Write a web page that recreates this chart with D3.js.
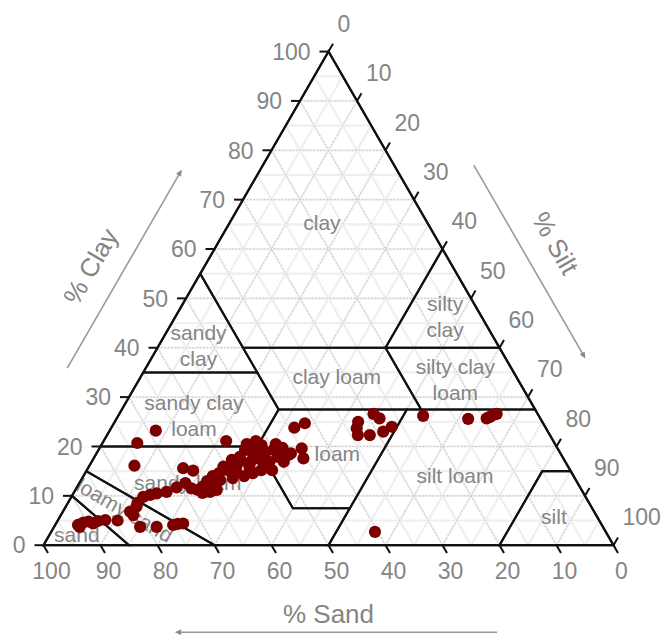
<!DOCTYPE html>
<html>
<head>
<meta charset="utf-8">
<script src="https://cdn.jsdelivr.net/npm/d3@7"></script>
<style>
  html, body { margin: 0; padding: 0; background: #fff; }
  svg { display: block; font-family: "Liberation Sans", Arial, Helvetica, sans-serif; }
</style>
</head>
<body>
<svg id="chart" width="661" height="635"></svg>
<script>
// Soil samples: percent sand, silt and clay
const sand = [91.9, 90.7, 89.7, 89.1, 86.6, 84.5, 91.8, 88.0, 81.4, 81.2, 79.8, 81.2, 78.3, 75.2, 73.3, 74.3,
  77.6, 76.2, 74.9, 73.0, 70.8, 79.2, 68.7, 73.2, 76.0, 57.4, 52.2, 67.7, 66.2, 66.1, 65.4, 64.0, 67.3, 65.5,
  63.3, 68.8, 68.3, 61.9, 60.5, 58.6, 56.6, 55.7, 56.0, 54.2, 53.2, 50.0, 49.9, 47.9, 55.0, 58.3, 60.0, 57.8,
  51.6, 51.9, 54.0, 52.6, 48.2, 53.1, 57.7, 63.3, 44.1, 41.8, 44.9, 45.6, 47.3, 28.8, 28.2, 32.3, 33.2, 33.7,
  31.6, 28.9, 26.9, 20.3, 12.7, 9.4, 7.9, 7.2, 8.7, 40.5, 54.1, 51.6, 49.0, 53.9, 49.4, 52.3, 56.0, 60.0, 62.4, 64.8,
  66.8, 64.6, 59.2, 55.1];
const silt = [4.0, 4.7, 5.5, 6.5, 8.3, 10.5, 4.5, 7.1, 11.8, 12.7, 12.4, 15.1, 18.0, 20.7, 22.3, 21.4,
  12.6, 13.6, 14.6, 16.2, 17.5, 12.2, 8.1, 6.1, 7.9, 21.5, 26.7, 16.7, 18.7, 22.0, 23.8, 24.8, 21.5, 22.6,
  23.5, 18.6, 20.2, 23.5, 23.6, 26.2, 25.5, 27.7, 29.4, 30.6, 29.5, 30.7, 32.2, 33.8, 25.7, 24.4, 24.8, 28.2,
  29.5, 31.2, 27.1, 27.7, 32.1, 30.8, 25.8, 22.7, 32.1, 33.5, 35.5, 36.8, 34.1, 44.6, 46.1, 42.7, 43.1, 44.0,
  46.1, 48.1, 49.1, 53.5, 61.7, 64.9, 65.7, 66.2, 65.3, 56.8, 25.4, 28.1, 30.5, 28.4, 33.7, 32.5, 28.3, 26.4, 24.4, 22.2,
  22.6, 24.2, 25.0, 27.9];
const clay = [4.1, 4.6, 4.8, 4.4, 5.1, 5.0, 3.7, 4.9, 6.8, 6.1, 7.8, 3.7, 3.7, 4.1, 4.4, 4.3,
  9.8, 10.2, 10.5, 10.8, 11.7, 8.6, 23.2, 20.7, 16.1, 21.1, 21.1, 15.6, 15.1, 11.9, 10.8, 11.2, 11.2, 11.9,
  13.2, 12.6, 11.5, 14.6, 15.9, 15.2, 17.9, 16.6, 14.6, 15.2, 17.3, 19.3, 17.9, 18.3, 19.3, 17.3, 15.2, 14.0,
  18.9, 16.9, 18.9, 19.7, 19.7, 16.1, 16.5, 14.0, 23.8, 24.7, 19.6, 17.6, 18.6, 26.6, 25.7, 25.0, 23.7, 22.3,
  22.3, 23.0, 24.0, 26.2, 25.6, 25.7, 26.4, 26.6, 26.0, 2.7, 20.5, 20.3, 20.5, 17.7, 16.9, 15.2, 15.7, 13.6, 13.2, 13.0,
  10.6, 11.2, 15.8, 17.0];

// Axis ticks (percent)
const tickValues = [0, 10, 20, 30, 40, 50, 60, 70, 80, 90, 100];
const gridValues = d3.range(5, 100, 5);

// USDA texture classes: corner points as [sand, silt, clay]
const regionNames = ["clay", "sandy clay", "silty clay", "clay loam", "silty clay loam", "sandy clay loam",
  "loam", "silt loam", "silt", "sandy loam", "loamy sand", "sand"];
const regionCorners = [
  [[45, 0, 55], [0, 0, 100], [0, 40, 60], [20, 40, 40], [45, 15, 40]],
  [[65, 0, 35], [45, 0, 55], [45, 20, 35]],
  [[20, 40, 40], [0, 40, 60], [0, 60, 40]],
  [[45, 15, 40], [20, 40, 40], [20, 52.5, 27.5], [45, 27.5, 27.5]],
  [[20, 40, 40], [0, 60, 40], [0, 72.5, 27.5], [20, 52.5, 27.5]],
  [[80, 0, 20], [65, 0, 35], [45, 20, 35], [45, 27.5, 27.5], [52.5, 27.5, 20]],
  [[52.5, 27.5, 20], [45, 27.5, 27.5], [22.5, 50, 27.5], [42.5, 50, 7.5], [52.5, 40, 7.5]],
  [[50, 50, 0], [20, 80, 0], [5, 80, 15], [0, 85, 15], [0, 72.5, 27.5], [22.5, 50, 27.5]],
  [[20, 80, 0], [0, 100, 0], [0, 85, 15], [5, 80, 15]],
  [[85, 0, 15], [80, 0, 20], [52.5, 27.5, 20], [52.5, 40, 7.5], [42.5, 50, 7.5], [50, 50, 0], [70, 30, 0]],
  [[90, 0, 10], [85, 0, 15], [70, 30, 0], [85, 15, 0]],
  [[100, 0, 0], [90, 0, 10], [85, 15, 0]]
];
// Class label text lines and their anchor composition [sand, silt, clay]
const labelLines = [["clay"], ["sandy", "clay"], ["silty", "clay"], ["clay loam"], ["silty clay", "loam"],
  ["sandy clay", "loam"], ["loam"], ["silt loam"], ["silt"], ["sandy loam"], ["loamy sand"], ["sand"]];
const labelAt = [[18.5, 16.2, 65.3], [52.6, 7.0, 40.4], [6.4, 47.3, 46.3], [31.5, 34.4, 34.1], [11.0, 55.5, 33.5],
  [60.5, 13.3, 26.2], [39.2, 42.3, 18.5], [20.8, 65.2, 14.0], [7.6, 86.7, 5.7], [68.4, 19.0, 12.6],
  [82.2, 10.7, 7.1], [93.1, 4.8, 2.1]];
const labelAngle = [0, 0, 0, 0, 0, 0, 0, 0, 0, 0, 30, 0];

const axisTitles = ["% Sand", "% Clay", "% Silt"];

// ---- ternary frame ----
const svg = d3.select("#chart");
const side = 570, originX = 43.5, originY = 545.2;
const H = Math.sqrt(3) / 2;
const len = d3.scaleLinear().domain([0, 100]).range([0, side]);

function proj(sa, si, cl) {
  const t = sa + si + cl;
  const s = si * 100 / t, c = cl * 100 / t;
  return [originX + len(s + c / 2), originY - len(c) * H];
}

const gray = "#858585";
const line = d3.line();

// grid: light minor lines every 5, dotted major lines every 10
const gridG = svg.append("g");
function gridSegs(v) {
  return [
    [proj(100 - v, 0, v), proj(0, 100 - v, v)],
    [proj(v, 100 - v, 0), proj(v, 0, 100 - v)],
    [proj(100 - v, v, 0), proj(0, v, 100 - v)]
  ];
}
gridValues.forEach(v => {
  gridSegs(v).forEach(seg => {
    gridG.append("path").attr("d", line(seg)).attr("fill", "none")
      .attr("stroke", "#efefef").attr("stroke-width", 2.2);
  });
});
gridValues.filter(v => v % 10 === 0).forEach(v => {
  gridSegs(v).forEach(seg => {
    gridG.append("path").attr("d", line(seg)).attr("fill", "none")
      .attr("stroke", "#c4c4c4").attr("stroke-width", 1).attr("stroke-dasharray", "1.5,2");
  });
});

// texture class outlines
const regG = svg.append("g");
regionCorners.forEach(pts => {
  regG.append("path").attr("d", line(pts.map(p => proj(...p))) + "Z")
    .attr("fill", "none").attr("stroke", "#111").attr("stroke-width", 2.1)
    .attr("stroke-linejoin", "miter");
});

// class labels
const labG = svg.append("g").attr("fill", gray).attr("font-size", 21).attr("text-anchor", "middle");
labelLines.forEach((lines, i) => {
  const [x, y] = proj(...labelAt[i]);
  const t = labG.append("text").attr("transform", `translate(${x},${y}) rotate(${labelAngle[i]})`);
  const n = lines.length;
  lines.forEach((s, j) => {
    t.append("tspan").attr("x", 0).attr("y", (j - (n - 1) / 2) * 26).attr("dy", "0.35em").text(s);
  });
});

// triangle frame
const corners = [proj(100, 0, 0), proj(0, 100, 0), proj(0, 0, 100)];
svg.append("path").attr("d", line(corners) + "Z").attr("fill", "none")
  .attr("stroke", "#111").attr("stroke-width", 2.2).attr("stroke-linejoin", "miter");

// ticks and tick labels
const tickLen = 9;
const axG = svg.append("g").attr("font-size", 23).attr("fill", gray);
tickValues.forEach(v => {
  // clay (left edge), ticks point left
  let [x, y] = proj(100 - v, 0, v);
  axG.append("line").attr("x1", x).attr("y1", y).attr("x2", x - tickLen).attr("y2", y)
    .attr("stroke", "#111").attr("stroke-width", 2);
  axG.append("text").attr("x", x - 18).attr("y", y).attr("dy", "0.36em")
    .attr("text-anchor", "end").text(v);
  // silt (right edge), ticks point up-right
  [x, y] = proj(0, v, 100 - v);
  axG.append("line").attr("x1", x).attr("y1", y).attr("x2", x + tickLen * 0.5).attr("y2", y - tickLen * H)
    .attr("stroke", "#111").attr("stroke-width", 2);
  axG.append("text").attr("x", x + 9).attr("y", y - 28).attr("dy", "0.36em")
    .attr("text-anchor", "start").text(v);
  // sand (bottom edge), ticks point down-right
  [x, y] = proj(v, 100 - v, 0);
  axG.append("line").attr("x1", x).attr("y1", y).attr("x2", x + tickLen * 0.5).attr("y2", y + tickLen * H)
    .attr("stroke", "#111").attr("stroke-width", 2);
  axG.append("text").attr("x", x + 8).attr("y", y + 26).attr("dy", "0.36em")
    .attr("text-anchor", "middle").text(v);
});

// axis titles with direction arrows
svg.append("defs").append("marker").attr("id", "head")
  .attr("viewBox", "0 0 10 10").attr("refX", 9).attr("refY", 5)
  .attr("markerWidth", 7).attr("markerHeight", 6).attr("markerUnits", "userSpaceOnUse")
  .attr("orient", "auto")
  .append("path").attr("d", "M0,0L10,5L0,10Z").attr("fill", "#8a8a8a");

const leftN = [-H, -0.5], rightN = [H, -0.5];
function shift(p, n, d) { return [p[0] + n[0] * d, p[1] + n[1] * d]; }
const arrowG = svg.append("g").attr("stroke", "#9a9a9a").attr("stroke-width", 1.6).attr("fill", "none");
// clay arrow along the left edge, pointing up
arrowG.append("path").attr("marker-end", "url(#head)")
  .attr("d", line([shift(proj(71, 0, 29), leftN, 68), shift(proj(31, 0, 69), leftN, 68)]));
// silt arrow along the right edge, pointing down
arrowG.append("path").attr("marker-end", "url(#head)")
  .attr("d", line([shift(proj(0, 30, 70), rightN, 69), shift(proj(0, 69, 31), rightN, 69)]));
// sand arrow under the base, pointing left
arrowG.append("path").attr("marker-end", "url(#head)")
  .attr("d", line([shift(proj(20.4, 79.6, 0), [0, 1], 87), shift(proj(76.8, 23.2, 0), [0, 1], 87)]));

const titleG = svg.append("g").attr("font-size", 26).attr("fill", gray).attr("text-anchor", "middle");
let tp = shift(proj(50, 50, 0), [0, 1], 68);
titleG.append("text").attr("x", tp[0]).attr("y", tp[1]).attr("dy", "0.36em").text(axisTitles[0]);
tp = shift(proj(53.5, 0, 46.5), leftN, 99);
titleG.append("text").attr("transform", `translate(${tp[0]},${tp[1]}) rotate(-60)`).attr("dy", "0.36em").text(axisTitles[1]);
tp = shift(proj(0, 49, 51), rightN, 101);
titleG.append("text").attr("transform", `translate(${tp[0]},${tp[1]}) rotate(60)`).attr("dy", "0.36em").text(axisTitles[2]);

// sample points
const samples = sand.map((s, i) => ({ sand: s, silt: silt[i], clay: clay[i] }));
svg.append("g").selectAll("circle").data(samples).join("circle")
  .attr("cx", d => proj(d.sand, d.silt, d.clay)[0])
  .attr("cy", d => proj(d.sand, d.silt, d.clay)[1])
  .attr("r", 6.1)
  .attr("fill", "#7d0000");
</script>
</body>
</html>
